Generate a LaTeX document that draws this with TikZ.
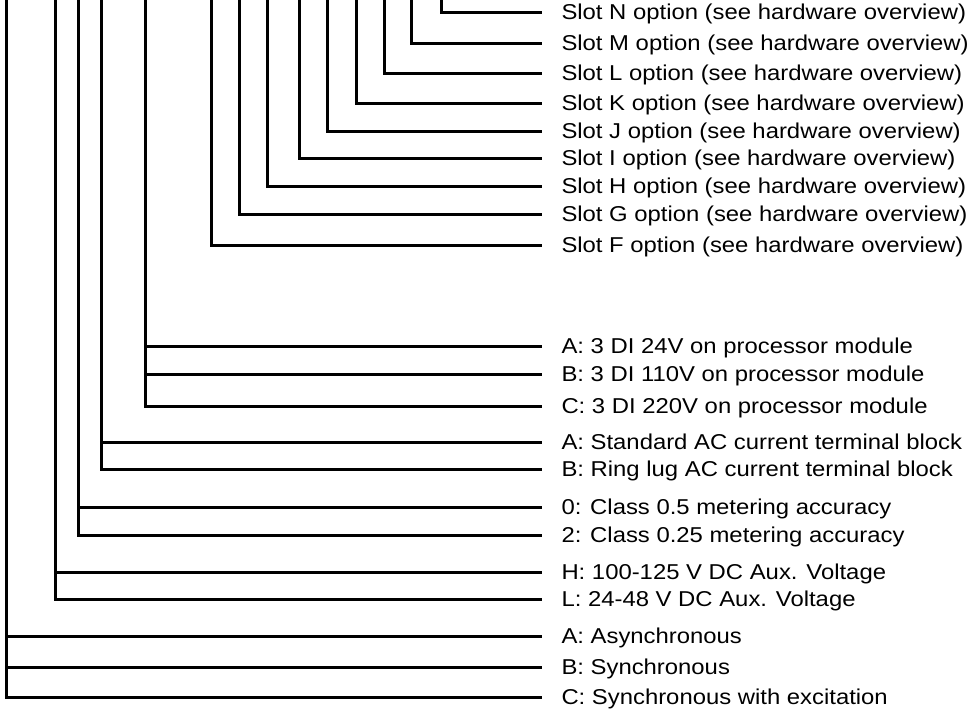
\documentclass[tikz,border=0pt]{standalone}
\usepackage{fontspec}
\setmainfont[FakeStretch=1.11]{Liberation Sans}
\usepackage{tikz}
\usetikzlibrary{calc}

\begin{document}
\begin{tikzpicture}[x=1pt,y=-1pt,line width=3pt]
\tikzset{
    opt/.style={anchor=west,inner xsep=18pt,inner ysep=0pt,
        text height=15.4pt,text depth=0pt,
        font=\fontsize{21.5}{26}\selectfont}
}
\useasboundingbox (0,0) rectangle (972,713);

% slot options
\node[opt] (N) at (542,12)  {Slot N option (see hardware overview)};
\node[opt] (M) at (542,43)  {Slot M option (see hardware overview)};
\node[opt] (L) at (542,73)  {Slot L option (see hardware overview)};
\node[opt] (K) at (542,103) {Slot K option (see hardware overview)};
\node[opt] (J) at (542,131) {Slot J option (see hardware overview)};
\node[opt] (I) at (542,158) {Slot I option (see hardware overview)};
\node[opt] (H) at (542,186) {Slot H option (see hardware overview)};
\node[opt] (G) at (542,214) {Slot G option (see hardware overview)};
\node[opt] (F) at (542,245) {Slot F option (see hardware overview)};

% digital inputs
\node[opt] (diA) at (542,346) {A: 3 DI 24V on processor module};
\node[opt] (diB) at (542,374) {B: 3 DI 110V on processor module};
\node[opt] (diC) at (542,406) {C: 3 DI 220V on processor module};

% terminal block
\node[opt] (tbA) at (542,442) {A: Standard AC current terminal block};
\node[opt] (tbB) at (542,469) {B: Ring lug AC current terminal block};

% accuracy
\node[opt] (acc0) at (542,507) {0: Class 0.5 metering accuracy};
\node[opt] (acc2) at (542,535) {2: Class 0.25 metering accuracy};

% aux voltage
\node[opt] (auxH) at (542,572) {H: 100-125 V DC Aux. Voltage};
\node[opt] (auxL) at (542,599) {L: 24-48 V DC Aux. Voltage};

% application
\node[opt] (appA) at (542,636) {A: Asynchronous};
\node[opt] (appB) at (542,667) {B: Synchronous};
\node[opt] (appC) at (542,697) {C: Synchronous with excitation};

\coordinate (vN) at (441,0);
\coordinate (vM) at (411,0);
\coordinate (vL) at (384,0);
\coordinate (vK) at (356,0);
\coordinate (vJ) at (327,0);
\coordinate (vI) at (299,0);
\coordinate (vH) at (267,0);
\coordinate (vG) at (239,0);
\coordinate (vF) at (211,0);
\coordinate (vdi) at (145,0);
\coordinate (vtb) at (101,0);
\coordinate (vacc) at (78,0);
\coordinate (vaux) at (55,0);
\coordinate (vapp) at (6,0);

\draw (vN) |- (N.west);
\draw (vM) |- (M.west);
\draw (vL) |- (L.west);
\draw (vK) |- (K.west);
\draw (vJ) |- (J.west);
\draw (vI) |- (I.west);
\draw (vH) |- (H.west);
\draw (vG) |- (G.west);
\draw (vF) |- (F.west);

\draw (vdi) |- (diC.west);
\draw (vdi |- diA.west) -- (diA.west);
\draw (vdi |- diB.west) -- (diB.west);

\draw (vtb) |- (tbB.west);
\draw (vtb |- tbA.west) -- (tbA.west);

\draw (vacc) |- (acc2.west);
\draw (vacc |- acc0.west) -- (acc0.west);

\draw (vaux) |- (auxL.west);
\draw (vaux |- auxH.west) -- (auxH.west);

\draw (vapp) |- (appC.west);
\draw (vapp |- appA.west) -- (appA.west);
\draw (vapp |- appB.west) -- (appB.west);

\end{tikzpicture}
\end{document}
